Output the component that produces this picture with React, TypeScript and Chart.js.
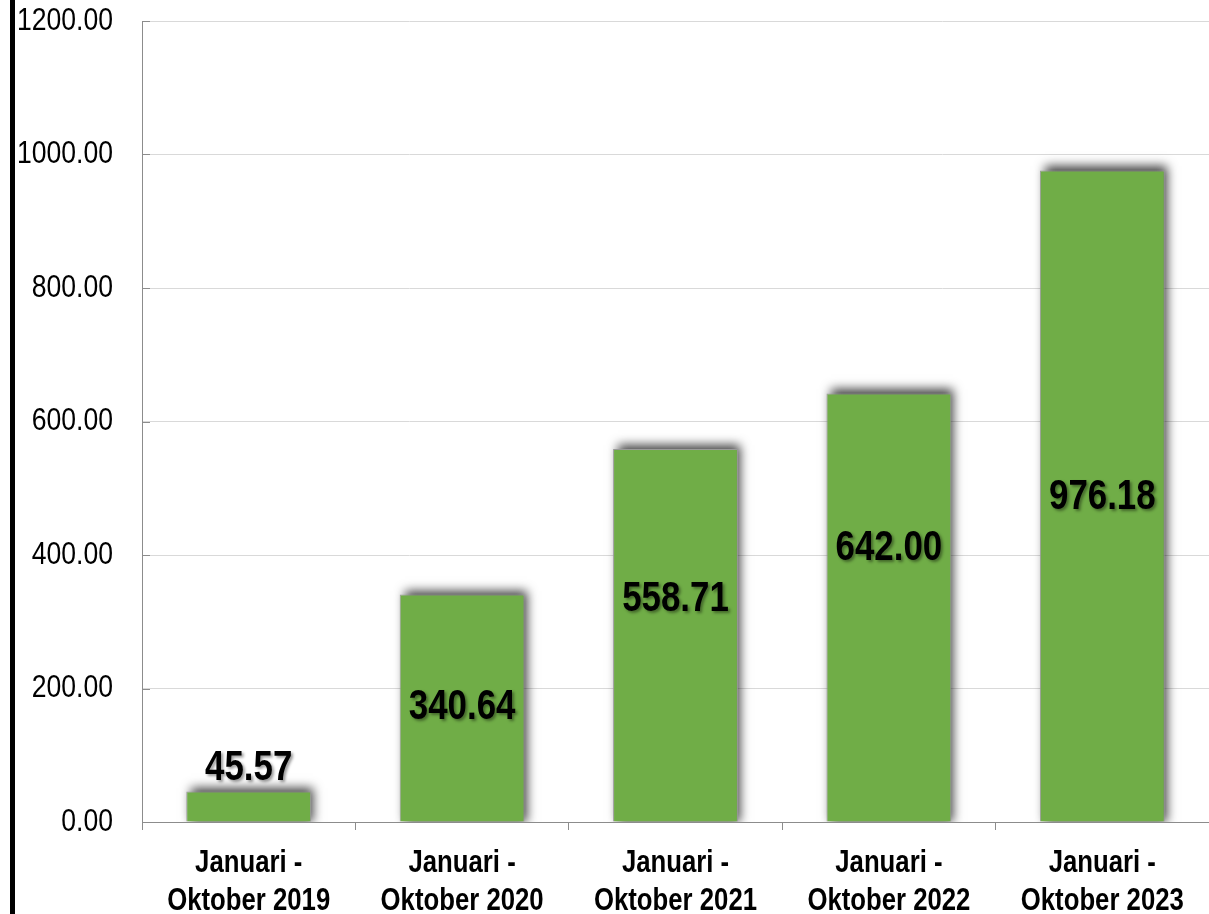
import React, { useEffect, useRef } from "react";
import { Chart, registerables } from "chart.js";

Chart.register(...registerables);

const categories: string[][] = [
  ["Januari -", "Oktober 2019"],
  ["Januari -", "Oktober 2020"],
  ["Januari -", "Oktober 2021"],
  ["Januari -", "Oktober 2022"],
  ["Januari -", "Oktober 2023"],
];
const values: number[] = [45.57, 340.64, 558.71, 642.0, 976.18];
const yTicks: number[] = [0, 200, 400, 600, 800, 1000, 1200];

// label anchor (in data units) for the value labels; null = above bar
const labelAnchors: (number | null)[] = [null, 171, 333, 410, 487];

const FONT = "'Liberation Sans', Arial, sans-serif";
const SQUEEZE = 0.83;

function narrowText(ctx: CanvasRenderingContext2D, text: string, x: number, y: number, align: "left" | "right" | "center") {
  ctx.save();
  ctx.translate(x, y);
  ctx.scale(SQUEEZE, 1);
  ctx.textAlign = align;
  ctx.fillText(text, 0, 0);
  ctx.restore();
}

const shadowPlugin = {
  id: "barShadow",
  beforeDatasetsDraw(chart: any) {
    const ctx = chart.ctx;
    const meta = chart.getDatasetMeta(0);
    const area = chart.chartArea;
    ctx.save();
    ctx.beginPath();
    ctx.rect(area.left, area.top - 20, area.right - area.left, area.bottom - area.top + 20);
    ctx.clip();
    const OFF = 10000;
    ctx.shadowColor = "rgba(0,0,0,0.75)";
    ctx.shadowBlur = 10;
    ctx.shadowOffsetX = OFF;
    ctx.shadowOffsetY = 0;
    ctx.fillStyle = "#000";
    meta.data.forEach((bar: any) => {
      const w = bar.width;
      const left = bar.x - w / 2;
      ctx.fillRect(left + 5 - OFF, bar.y - 4, w - 3, bar.base - bar.y + 4);
    });
    ctx.restore();
  },
};

const axisTextPlugin = {
  id: "axisText",
  afterDraw(chart: any) {
    const ctx = chart.ctx;
    const y = chart.scales.y;
    const x = chart.scales.x;
    const left = chart.chartArea.left;
    const bottom = chart.chartArea.bottom;
    ctx.save();
    // inner ticks on y axis
    ctx.strokeStyle = "#8c8c8c";
    ctx.lineWidth = 1;
    yTicks.forEach((v) => {
      const py = Math.round(y.getPixelForValue(v)) + 0.5;
      ctx.beginPath();
      ctx.moveTo(left, py);
      ctx.lineTo(left + 8, py);
      ctx.stroke();
    });
    // y labels
    ctx.fillStyle = "#000";
    ctx.font = `32px ${FONT}`;
    ctx.textBaseline = "middle";
    yTicks.forEach((v) => {
      narrowText(ctx, v.toFixed(2), left - 29, y.getPixelForValue(v), "right");
    });
    // x labels
    ctx.font = `bold 31px ${FONT}`;
    ctx.textBaseline = "alphabetic";
    categories.forEach((lines, i) => {
      const cx = x.getPixelForValue(i);
      lines.forEach((ln, j) => {
        narrowText(ctx, ln, cx, bottom + 50 + j * 38, "center");
      });
    });
    ctx.restore();
  },
};

const labelPlugin = {
  id: "valueLabels",
  afterDatasetsDraw(chart: any) {
    const ctx = chart.ctx;
    const meta = chart.getDatasetMeta(0);
    const y = chart.scales.y;
    ctx.save();
    ctx.font = `bold 42px ${FONT}`;
    ctx.fillStyle = "#000";
    ctx.textBaseline = "middle";
    ctx.shadowColor = "rgba(0,0,0,0.4)";
    ctx.shadowBlur = 3;
    ctx.shadowOffsetX = 2;
    ctx.shadowOffsetY = 2;
    meta.data.forEach((bar: any, i: number) => {
      const anchor = labelAnchors[i];
      const py = anchor === null ? bar.y - 23 : y.getPixelForValue(anchor);
      narrowText(ctx, values[i].toFixed(2), bar.x, py, "center");
    });
    ctx.restore();
  },
};

export default function App() {
  const ref = useRef<HTMLCanvasElement | null>(null);
  useEffect(() => {
    document.body.style.margin = "0";
    const chart = new Chart(ref.current as HTMLCanvasElement, {
      type: "bar",
      data: {
        labels: categories,
        datasets: [
          {
            data: values,
            backgroundColor: "#70AD47",
            borderColor: "#9a9a9a",
            borderWidth: 1,
            barPercentage: 0.585,
            categoryPercentage: 1,
          },
        ],
      },
      options: {
        animation: false,
        responsive: false,
        maintainAspectRatio: false,
        layout: { padding: { top: 21, left: 0, right: 0, bottom: 0 } },
        plugins: { legend: { display: false }, tooltip: { enabled: false } },
        scales: {
          x: {
            offset: true,
            grid: {
              offset: true,
              drawOnChartArea: false,
              drawTicks: true,
              tickLength: 8,
              color: "#8c8c8c",
            },
            border: { color: "#8c8c8c", width: 1 },
            ticks: { display: false },
            afterFit(scale: any) {
              scale.height = 92;
            },
          },
          y: {
            min: 0,
            max: 1200,
            afterBuildTicks(scale: any) {
              scale.ticks = yTicks.map((v) => ({ value: v }));
            },
            grid: { color: "#d9d9d9", drawTicks: false, lineWidth: 1 },
            border: { color: "#8c8c8c", width: 1 },
            ticks: { display: false },
            afterFit(scale: any) {
              scale.width = 142;
            },
          },
        },
      },
      plugins: [shadowPlugin, axisTextPlugin, labelPlugin],
    });
    return () => chart.destroy();
  }, []);
  return (
    <div style={{ position: "relative", width: 1209, height: 914, overflow: "hidden", background: "#fff" }}>
      <div style={{ position: "absolute", left: 10, top: 0, width: 5, height: 914, background: "#000" }} />
      <canvas ref={ref} width={1209} height={914} style={{ display: "block" }} />
    </div>
  );
}
